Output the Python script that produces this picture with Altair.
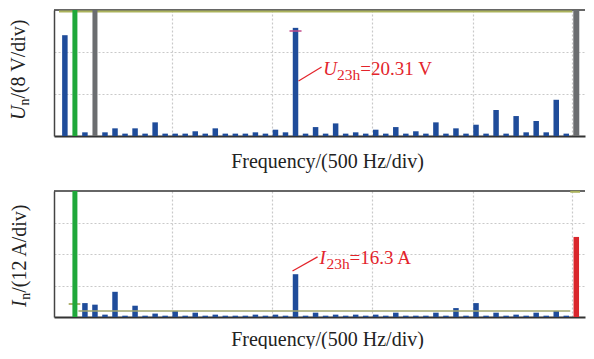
import altair as alt
import pandas as pd

# ---------------- data ----------------
HARM = list(range(0, 51))
# voltage harmonics (V); h=1 and h=3 are shown as full-height cursor lines
U_VALUES = [19.2, None, 0.7, None, 0.7, 1.46, 0.45, 1.46, 0.45, 2.6,
            0.45, 0.45, 0.45, 0.9, 0.45, 1.46, 0.45, 0.45, 0.45, 0.7,
            0.45, 1.2, 0.7, 20.6, 0.45, 1.7, 0.45, 2.4, 0.45, 0.7,
            0.45, 1.2, 0.45, 1.7, 0.45, 0.9, 0.45, 2.6, 0.45, 1.46,
            0.45, 2.15, 0.45, 4.95, 0.45, 3.8, 0.7, 2.86, 0.7, 6.9, 0.45]
# current harmonics (A)
I_VALUES = [None, None, 5.3, 4.7, 0.9, 9.6, 0.5, 4.3, 0.5, 1.3,
            0.5, 2.3, 0.5, 1.65, 0.5, 0.9, 0.5, 0.5, 0.5, 0.9,
            0.5, 0.9, 0.5, 16.3, 0.5, 1.65, 0.5, 0.9, 0.5, 0.9,
            0.5, 0.9, 0.5, 1.65, 0.5, 0.5, 0.5, 1.65, 0.5, 3.4,
            0.5, 5.3, 0.5, 1.65, 0.5, 0.9, 0.5, 1.65, 0.5, 2.3, 0.5]

FUND_H = [1]          # green cursor
MARK_H = [3]          # grey cursor (top panel)
END_H = [51]          # grey end cursor (top) / red bar (bottom)
RED_I = [30.5]
U_MARK = [20.0]       # small marker on the 23rd harmonic
U_TOP_LEVEL = [23.7]  # olive level line, top panel
I_LEVEL = [2.3]       # olive level line, bottom panel
I_LEVEL_SHORT = [4.95]

U_ANN_TEXT = ["U", "23h", "=20.31 V"]
I_ANN_TEXT = ["I", "23h", "=16.3 A"]
U_YLAB = ["U", "n", "/(8 V/div)"]
I_YLAB = ["I", "n", "/(12 A/div)"]
X_TITLE = "Frequency/(500 Hz/div)"

U_MAX, I_MAX = 24, 48
U_GRID = [8, 16]
I_GRID = [12, 24, 36]
X_DOMAIN = [-0.586, 51.37]
X_GRID = [10.67, 20.67, 30.67, 40.67, 50.6]

# ---------------- styles ----------------
FONT = "Liberation Serif"
BLUE = "#1f4c9a"
GREEN = "#1fa83a"
GREY = "#6b6d70"
RED = "#e3242b"
OLIVE = "#abb35c"
OLIVE2 = "#a2a66c"
DARK = "#333333"
W, H = 531, 126

xscale = alt.Scale(domain=X_DOMAIN, nice=False, zero=False)


def x_axis(title_y):
    return alt.Axis(values=X_GRID, grid=True, gridColor="#c9c9c9", gridDash=[2, 2],
                    gridWidth=1.2, labels=False, ticks=False, domainColor=DARK,
                    domainWidth=2, title=X_TITLE, titleFont=FONT, titleFontSize=20,
                    titleFontWeight="normal", titleColor="#222222", titleX=273,
                    titleY=title_y, titleAlign="center", titleBaseline="alphabetic")


def y_axis(vals):
    return alt.Axis(values=vals, grid=True, gridColor="#c9c9c9", gridDash=[2, 2],
                    gridWidth=1.2, labels=False, ticks=False, domainColor="#444444",
                    domainWidth=1.5, title=None)


def panel(values, vmax, grid, title_y, extra_layers, ylab, ylab_pos, ann, ann_pos, ann_line):
    yscale = alt.Scale(domain=[0, vmax], nice=False, zero=True)
    xa = x_axis(title_y)
    ya = y_axis(grid)

    def X(f="h"):
        return alt.X(f"{f}:Q", scale=xscale, axis=xa)

    def Y(f="v"):
        return alt.Y(f"{f}:Q", scale=yscale, axis=ya)

    df = pd.DataFrame({"h": HARM, "v": values}).dropna()
    bars = alt.Chart(df).mark_bar(size=5.5, color=BLUE).encode(x=X(), y=Y())
    border = alt.Chart(pd.DataFrame({"v": [vmax]})).mark_rule(
        color=DARK, strokeWidth=1.5).encode(y=Y())
    layers = []
    for kind, d, props in extra_layers:
        dd = pd.DataFrame(d)
        if kind == "cursor":
            dd["v"] = vmax
            layers.append(alt.Chart(dd).mark_bar(**props).encode(x=X(), y=Y()))
        elif kind == "hseg":
            layers.append(alt.Chart(dd).mark_rule(**props).encode(x=X(), x2="h2:Q", y=Y()))
        elif kind == "bar":
            layers.append(alt.Chart(dd).mark_bar(**props).encode(x=X(), y=Y()))
    # annotation leader line
    (h1, v1, h2, v2) = ann_line
    lead = alt.Chart(pd.DataFrame({"h": [h1], "h2": [h2], "v": [v1], "v2": [v2]})).mark_rule(
        color=RED, strokeWidth=1.2).encode(x=X(), x2="h2:Q", y=Y(), y2="v2:Q")
    # annotation text pieces
    ah, av, dxs = ann_pos
    ann_layers = []
    styles = [dict(fontSize=19, fontStyle="italic", dy=0),
              dict(fontSize=15.5, fontStyle="normal", dy=5),
              dict(fontSize=19, fontStyle="normal", dy=0)]
    for txt, dx, st in zip(ann, dxs, styles):
        ann_layers.append(alt.Chart(pd.DataFrame({"h": [ah], "v": [av], "t": [txt]})).mark_text(
            font=FONT, color=RED, align="left", baseline="alphabetic", dx=dx, **st).encode(
            x=X(), y=Y(), text="t:N"))
    # rotated y label pieces
    lx, ly, offs = ylab_pos
    ystyles = [dict(fontSize=20, fontStyle="italic", sx=0),
               dict(fontSize=14, fontStyle="normal", sx=4),
               dict(fontSize=20, fontStyle="normal", sx=0)]
    ylab_layers = []
    for txt, off, st in zip(ylab, offs, ystyles):
        ylab_layers.append(alt.Chart(pd.DataFrame({"t": [txt]})).mark_text(
            font=FONT, color="#222222", align="left", baseline="alphabetic", angle=270,
            fontSize=st["fontSize"], fontStyle=st["fontStyle"]).encode(
            x=alt.value(lx + st["sx"]), y=alt.value(ly - off), text="t:N"))
    return alt.layer(bars, border, *layers, lead, *ann_layers, *ylab_layers).properties(
        width=W, height=H)


top = panel(
    U_VALUES, U_MAX, U_GRID, 31,
    [("hseg", {"h": [X_DOMAIN[0]], "h2": [50.6], "v": U_TOP_LEVEL}, dict(color=OLIVE, strokeWidth=2)),
     ("cursor", {"h": FUND_H}, dict(color=GREEN, size=5)),
     ("cursor", {"h": MARK_H}, dict(color=GREY, size=5)),
     ("cursor", {"h": END_H}, dict(color=GREY, size=6)),
     ("hseg", {"h": [22.4], "h2": [23.6], "v": U_MARK}, dict(color="#c04a8a", strokeWidth=1.5))],
    U_YLAB, (-29, 110, [0, 14.4, 21.4]),
    U_ANN_TEXT, (25.77, 11.62, [0, 13.7, 37]),
    (23.3, 10.48, 25.6, 13.14),
)

bottom = panel(
    I_VALUES, I_MAX, I_GRID, 28,
    [("hseg", {"h": [1.35], "h2": [50.4], "v": I_LEVEL}, dict(color=OLIVE2, strokeWidth=1.6)),
     ("hseg", {"h": [0.38], "h2": [1.54], "v": I_LEVEL_SHORT}, dict(color="#9ea050", strokeWidth=1.6)),
     ("hseg", {"h": [50.4], "h2": [X_DOMAIN[1]], "v": [47.7]}, dict(color=OLIVE, strokeWidth=2)),
     ("cursor", {"h": FUND_H}, dict(color=GREEN, size=5)),
     ("bar", {"h": END_H, "v": RED_I}, dict(color="#d9262c", size=5.5))],
    I_YLAB, (-28, 116, [0, 7.2, 14.2]),
    I_ANN_TEXT, (25.4, 20.2, [0, 7, 30]),
    (22.7, 17.5, 25.2, 22.9),
)

chart = alt.vconcat(top, bottom, spacing=55, bounds="flush").properties(
    padding={"left": 0, "top": 1, "right": 0, "bottom": 0},
    background="white",
).configure_view(stroke=None)

chart.save("out.html", embed_options={"renderer": "svg", "actions": False})
